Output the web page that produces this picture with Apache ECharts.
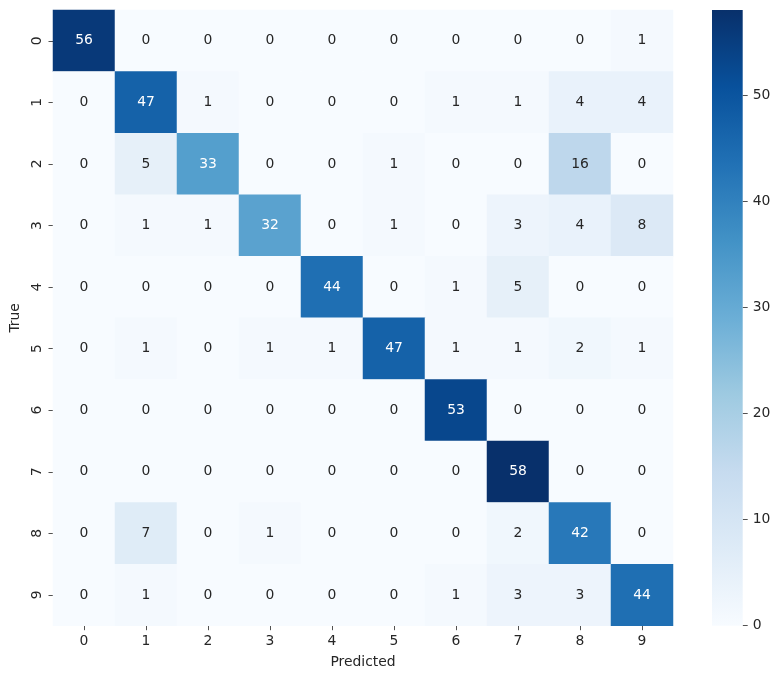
<!DOCTYPE html>
<html>
<head>
<meta charset="utf-8">
<script src="https://cdn.jsdelivr.net/npm/echarts@6/dist/echarts.min.js"></script>
<style>
html,body{margin:0;padding:0;background:#fff;}
#chart{width:780px;height:679px;}
</style>
</head>
<body>
<div id="chart"></div>
<script>
const predictedLabels = ['0','1','2','3','4','5','6','7','8','9'];
const trueLabels = ['0','1','2','3','4','5','6','7','8','9'];
const row0 = [56,0,0,0,0,0,0,0,0,1];
const row1 = [0,47,1,0,0,0,1,1,4,4];
const row2 = [0,5,33,0,0,1,0,0,16,0];
const row3 = [0,1,1,32,0,1,0,3,4,8];
const row4 = [0,0,0,0,44,0,1,5,0,0];
const row5 = [0,1,0,1,1,47,1,1,2,1];
const row6 = [0,0,0,0,0,0,53,0,0,0];
const row7 = [0,0,0,0,0,0,0,58,0,0];
const row8 = [0,7,0,1,0,0,0,2,42,0];
const row9 = [0,1,0,0,0,0,1,3,3,44];
const colorbarTicks = [0,10,20,30,40,50];
const vMin = 0, vMax = 58;

const rows = [row0,row1,row2,row3,row4,row5,row6,row7,row8,row9];
const blues = ['#f7fbff','#deebf7','#c6dbef','#9ecae1','#6baed6','#4292c6','#2171b5','#08519c','#08306b'];
const dark = '#262626';
const font = 'DejaVu Sans';

const data = [];
rows.forEach((r, yi) => r.forEach((v, xi) => {
  data.push({value:[xi, yi, v], label:{color: v > 25 ? '#ffffff' : dark}});
}));

const gridTop = 10, gridBottom = 53.3;
const chart = echarts.init(document.getElementById('chart'), null, {renderer:'canvas'});
chart.setOption({
  animation:false,
  textStyle:{fontFamily:font},
  grid:[
    {left:53, top:gridTop, width:620, bottom:gridBottom},
    {left:712, top:gridTop, width:30.7, bottom:gridBottom}
  ],
  xAxis:[
    {type:'category', data:predictedLabels, gridIndex:0, position:'bottom',
     axisLine:{show:false},
     axisTick:{show:true, alignWithLabel:true, length:4.5, lineStyle:{color:dark, width:0.8}},
     axisLabel:{color:dark, fontSize:13.9, fontFamily:font, margin:9},
     name:'Predicted', nameLocation:'middle', nameGap:30,
     nameTextStyle:{color:dark, fontSize:13.9, fontFamily:font},
     splitLine:{show:false}},
    {type:'category', data:['c'], gridIndex:1, show:false}
  ],
  yAxis:[
    {type:'category', data:trueLabels, gridIndex:0, inverse:true,
     axisLine:{show:false},
     axisTick:{show:true, alignWithLabel:true, length:4.5, lineStyle:{color:dark, width:0.8}},
     axisLabel:{color:dark, fontSize:13.9, fontFamily:font, rotate:90, margin:9},
     name:'True', nameLocation:'middle', nameGap:30, nameRotate:90,
     nameTextStyle:{color:dark, fontSize:13.9, fontFamily:font},
     splitLine:{show:false}},
    {type:'value', gridIndex:1, min:vMin, max:vMax, position:'right',
     axisLine:{show:false},
     splitLine:{show:false},
     axisTick:{show:true, length:5, customValues:colorbarTicks, lineStyle:{color:dark, width:0.8}},
     axisLabel:{color:dark, fontSize:13.9, fontFamily:font, margin:10, customValues:colorbarTicks}}
  ],
  visualMap:{show:false, min:vMin, max:vMax, seriesIndex:0, inRange:{color:blues}},
  series:[
    {type:'heatmap', xAxisIndex:0, yAxisIndex:0, data:data,
     label:{show:true, fontSize:13.9, fontFamily:font},
     itemStyle:{borderWidth:0},
     emphasis:{disabled:true}},
    {type:'bar', xAxisIndex:1, yAxisIndex:1, data:[vMax], barWidth:'100%',
     itemStyle:{color:new echarts.graphic.LinearGradient(0,0,0,1,
       blues.slice().reverse().map((c,i,a)=>({offset:i/(a.length-1), color:c})))},
     silent:true}
  ]
});
</script>
</body>
</html>
